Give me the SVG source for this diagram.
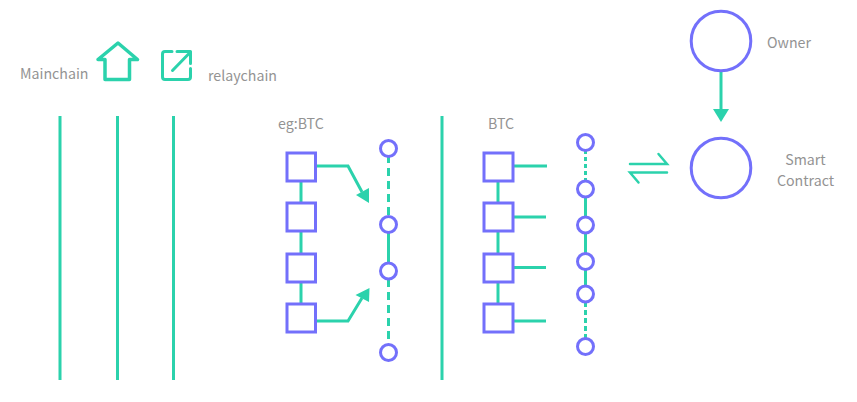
<svg xmlns="http://www.w3.org/2000/svg" width="857" height="402" viewBox="0 0 857 402">
<style>
text{font-family:"Noto Sans CJK SC","Noto Sans",sans-serif;font-size:14.200px;fill:#939393}
.g{fill:none;stroke:#2bd2ac;stroke-width:3}
.d{fill:none;stroke:#2bd2ac;stroke-width:3;stroke-dasharray:8 5}
.h{fill:#2bd2ac}
.s{fill:#fff;stroke:#7370fb;stroke-width:3}
.c{fill:#fff;stroke:#7370fb;stroke-width:3}
</style>
<rect width="857" height="402" fill="#fff"/>
<g id="connectors">
<path class="g" d="M60 116V380M117.500 116V380M173.500 116V380M442 116V380"/>
<path class="g" d="M301 182V303"/>
<path class="g" d="M498 182V303"/>
<path class="g" d="M316 166H348L362 192"/>
<path class="h" d="M369 203L356 195L369 188Z"/>
<path class="g" d="M316 321H348L362 298"/>
<path class="h" d="M369.500 288L355.500 295L369 302Z"/>
<path class="d" d="M388.500 155V216"/>
<path class="g" d="M388.500 232V263"/>
<path class="d" d="M388.500 279V344"/>
<path class="g" d="M513 166H547M513 217H546M513 267.500H546M513 321H546"/>
<path class="d" d="M585.500 150V181" style="stroke-dasharray:4 3"/>
<path class="g" d="M585.500 197V286"/>
<path class="d" d="M585.500 302V338" style="stroke-dasharray:5 3"/>
<path class="g" d="M721 71V110"/>
<path class="h" d="M713 109H729L721 122Z"/>
<path class="g" style="stroke-width:2.500" stroke-linecap="round" d="M630 164H667L658.500 154M667 172.500H630L638.500 182.500"/>
</g>
<g id="mainchain"><text x="20" y="78.500">Mainchain</text></g>
<g id="home-icon"><path fill="none" stroke="#2bd2ac" stroke-width="3.500" stroke-linejoin="round" d="M98 59.500L118 43L137.500 59.500H129.500V79.500H105V59.500Z"/></g>
<g id="share-icon"><path fill="none" stroke="#2bd2ac" stroke-width="3" stroke-linecap="round" stroke-linejoin="round" d="M172 51.500H165Q162.500 51.500 162.500 54V77Q162.500 79.500 165 79.500H188Q190.500 79.500 190.500 77V68.500M177 51.500H190.500V63.500M172.500 70.500L190.500 52"/></g>
<g id="relaychain"><text x="208" y="80.500">relaychain</text></g>
<g id="eg-btc"><text x="278" y="128.500">eg:BTC</text></g>
<g id="btc"><text x="488" y="128.500">BTC</text></g>
<g id="left-square-1"><rect class="s" x="287" y="153" width="28.500" height="28"/></g>
<g id="left-square-2"><rect class="s" x="287" y="203" width="28.500" height="28"/></g>
<g id="left-square-3"><rect class="s" x="287" y="254" width="28.500" height="28"/></g>
<g id="left-square-4"><rect class="s" x="287" y="304" width="28.500" height="28"/></g>
<g id="right-square-1"><rect class="s" x="484" y="153" width="29" height="28"/></g>
<g id="right-square-2"><rect class="s" x="484" y="203" width="29" height="28"/></g>
<g id="right-square-3"><rect class="s" x="484" y="254" width="29" height="28"/></g>
<g id="right-square-4"><rect class="s" x="484" y="304" width="29" height="28"/></g>
<g id="left-dot-1"><circle class="c" cx="388.500" cy="148.500" r="8"/></g>
<g id="left-dot-2"><circle class="c" cx="388.500" cy="224.500" r="8"/></g>
<g id="left-dot-3"><circle class="c" cx="388.500" cy="271" r="8"/></g>
<g id="left-dot-4"><circle class="c" cx="388.500" cy="352.500" r="8"/></g>
<g id="right-dot-1"><circle class="c" cx="585.500" cy="142.500" r="8"/></g>
<g id="right-dot-2"><circle class="c" cx="585.500" cy="189" r="8"/></g>
<g id="right-dot-3"><circle class="c" cx="585.500" cy="225" r="8"/></g>
<g id="right-dot-4"><circle class="c" cx="585.500" cy="261.500" r="8"/></g>
<g id="right-dot-5"><circle class="c" cx="585.500" cy="294" r="8"/></g>
<g id="right-dot-6"><circle class="c" cx="585.500" cy="346.500" r="8"/></g>
<g id="owner"><circle class="c" cx="721" cy="41" r="29.800"/><text x="767" y="47.500">Owner</text></g>
<g id="smart-contract"><circle class="c" cx="721" cy="168" r="29.800"/><text x="805.500" y="165" text-anchor="middle">Smart</text><text x="805.500" y="185.500" text-anchor="middle">Contract</text></g>
</svg>
